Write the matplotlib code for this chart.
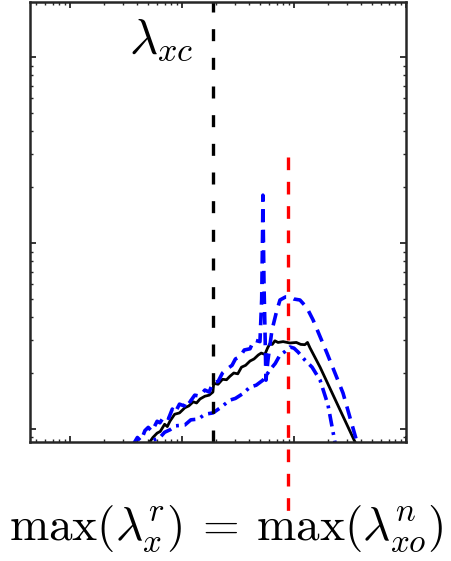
import matplotlib
matplotlib.use("Agg")
import matplotlib.pyplot as plt

plt.rcParams['mathtext.fontset'] = 'cm'

# solid black curve
black_x = [4.8, 5.5, 6.0, 6.4, 7.0, 7.4, 7.8, 8.6, 9.5, 10.6, 11.5, 12.6, 13.5, 14.5, 16.0,
           17.5, 18.9, 19.2, 21.0, 23.0, 25.0, 26.8, 29.0, 31.5, 34.0, 37.0, 40.5, 44.0,
           48.0, 51.0, 55.0, 58.0, 61.0, 64.0, 67.6, 72.0, 80.0, 92.0, 105.0, 115.0,
           125.0, 132.0, 139.0, 171.0, 351.0, 430.0]
black_y = [0.80, 0.90, 0.95, 0.97, 1.06, 1.03, 1.10, 1.20, 1.22, 1.30, 1.33, 1.40, 1.38, 1.45,
           1.50, 1.52, 1.58, 1.76, 1.74, 1.85, 1.84, 1.92, 2.00, 1.98, 2.15, 2.20, 2.32,
           2.38, 2.50, 2.56, 2.52, 2.72, 2.88, 2.85, 2.98, 2.92, 2.95, 2.90, 2.92, 2.85,
           2.84, 2.92, 2.73, 2.15, 0.85, 0.68]

# blue dashed curve (with the spike)
dash_x = [3.65, 4.0, 4.3, 4.67, 5.0, 5.4, 6.0, 6.36, 7.0, 7.6, 8.2, 8.66, 9.5, 10.5, 11.2,
          11.8, 13.0, 14.5, 16.0, 17.5, 18.9, 21.0, 23.0, 25.2, 28.0, 30.0, 33.0, 36.0,
          40.5, 44.0, 49.7, 51.5, 52.5, 52.8, 53.3, 54.0, 55.1, 56.2, 58.6, 63.6, 70.0,
          75.0, 84.0, 92.1, 100.0, 113.0, 130.0, 148.0, 197.0, 274.0, 365.0, 405.0]
dash_y = [0.82, 0.90, 0.86, 0.98, 1.02, 0.97, 1.10, 1.08, 1.18, 1.14, 1.28, 1.22, 1.36, 1.33,
          1.45, 1.40, 1.52, 1.50, 1.62, 1.58, 1.78, 1.80, 2.00, 2.10, 2.20, 2.38, 2.45,
          2.66, 2.70, 3.01, 2.95, 5.0, 12.0, 18.1, 11.0, 6.0, 3.40, 1.83, 2.35, 3.40,
          4.30, 4.94, 5.13, 5.13, 5.00, 4.94, 4.50, 3.86, 2.56, 1.56, 0.85, 0.68]

# blue dash-dot curve
dd_x = [4.67, 5.18, 5.8, 6.36, 7.0, 7.81, 8.8, 10.6, 12.0, 14.0, 16.0, 18.9, 22.0, 26.8,
        30.0, 35.0, 40.5, 46.0, 52.8, 61.1, 68.0, 75.0, 84.0, 92.1, 100.0, 109.0, 125.0,
        145.0, 171.0, 201.0, 232.0, 247.0]
dd_y = [0.72, 0.85, 0.88, 0.90, 0.96, 0.99, 1.04, 1.05, 1.12, 1.13, 1.20, 1.22, 1.30, 1.43,
        1.46, 1.55, 1.68, 1.72, 1.83, 2.08, 2.25, 2.50, 2.62, 2.76, 2.72, 2.59, 2.35,
        2.15, 1.83, 1.35, 0.85, 0.68]

lambda_xc = 18.9
red_x = 88.0
red_y = [29.0, 0.33]

fig = plt.figure(figsize=(4.51, 5.61), dpi=100)
ax = fig.add_axes([30 / 451, 119 / 561, 376 / 451, 440 / 561])

ax.plot(black_x, black_y, color='black', lw=2.0)
ax.plot(dash_x, dash_y, color='blue', lw=2.6, dashes=(3.5, 2.2))
ax.plot(dd_x, dd_y, color='blue', lw=2.6, dashes=(3.5, 1.6, 0.8, 1.6))

ax.axvline(lambda_xc, color='black', lw=2.4, dashes=(3.6, 5))
# red marker line runs past the bottom of the axes
ax.plot([red_x, red_x], red_y, color='red', lw=2.4, dashes=(3.8, 3.5),
        clip_on=False, zorder=5)

ax.set_xscale('log')
ax.set_yscale('log')
ax.set_xlim(0.44, 1000)
ax.set_ylim(0.851, 198)

ax.tick_params(which='both', direction='in', top=True, right=True,
               labelbottom=False, labelleft=False, color='#262626')
ax.tick_params(which='major', length=4.5, width=1.3)
ax.tick_params(which='minor', length=2.5, width=1.0)
for s in ax.spines.values():
    s.set_color('#262626')
    s.set_linewidth(1.8)

ax.text(0.434, 0.884, r'$\lambda_{xc}$', transform=ax.transAxes,
        ha='right', va='baseline', fontsize=35)
fig.text(9 / 451, 21 / 561, r'$\max(\lambda_x^r)\:=\:\max(\lambda_{xo}^n)$',
         ha='left', va='baseline', fontsize=34)

fig.savefig('out.png', dpi=100)
